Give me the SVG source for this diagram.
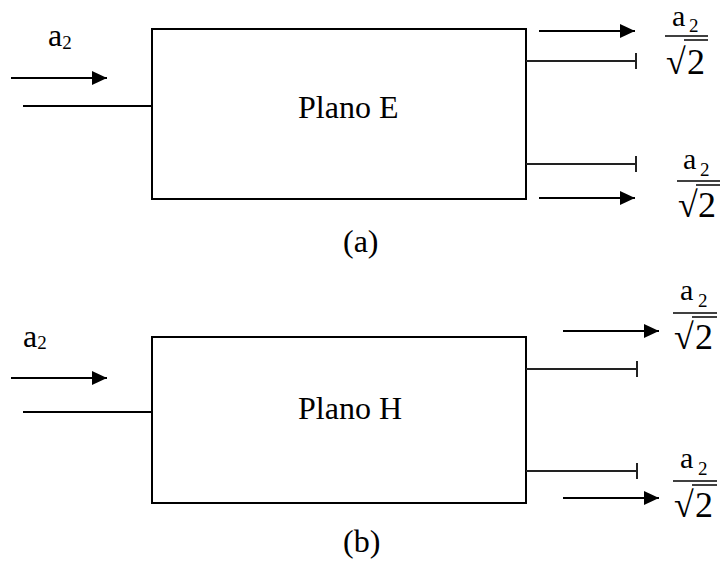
<svg xmlns="http://www.w3.org/2000/svg" width="720" height="567" viewBox="0 0 720 567">
<style>
text{font-family:"Liberation Serif","Times New Roman",serif;font-size:32px;fill:#000}
.sub{font-size:19px}
.fa{font-size:30px}
.big{font-size:36px}
.box{fill:#fff;stroke:#000;stroke-width:2}
.ln{stroke:#000;stroke-width:2;fill:none}
.stub{stroke:#222;stroke-width:2;fill:none}
.arr{stroke:#000;stroke-width:2;fill:none;marker-end:url(#ah)}
.fl{stroke:#000;stroke-width:1.5}
</style>
<defs>
<marker id="ah" markerUnits="userSpaceOnUse" markerWidth="16" markerHeight="16" refX="15" refY="7" orient="auto">
<path d="M0,0 L15,7 L0,14 Z" fill="#000"/>
</marker>
</defs>
<rect width="720" height="567" fill="#fff"/>
<g id="node-planoE">
<rect class="box" x="152" y="29" width="374" height="170"/>
<text x="298" y="118">Plano E</text>
</g>
<g id="node-planoH">
<rect class="box" x="152" y="337" width="374" height="166"/>
<text x="298" y="419">Plano H</text>
</g>
<g id="connectors">
<line class="arr" x1="11" y1="78" x2="107" y2="78"/>
<line class="ln" x1="23" y1="106" x2="152" y2="106"/>
<line class="arr" x1="539" y1="31" x2="635" y2="31"/>
<path class="stub" d="M526,61 H636 M636,53 V69"/>
<path class="stub" d="M526,164 H636 M636,156 V172"/>
<line class="arr" x1="539" y1="198" x2="635" y2="198"/>
<line class="arr" x1="11" y1="378" x2="107" y2="378"/>
<line class="ln" x1="23" y1="412" x2="152" y2="412"/>
<line class="arr" x1="563" y1="331" x2="659" y2="331"/>
<path class="stub" d="M526,369 H637 M637,361 V377"/>
<path class="stub" d="M526,471 H637 M637,463 V479"/>
<line class="arr" x1="563" y1="498" x2="659" y2="498"/>
</g>
<g id="labels">
<text x="48" y="46">a<tspan class="sub" dy="3">2</tspan></text>
<text x="23" y="347">a<tspan class="sub" dy="2">2</tspan></text>
<text x="343" y="252">(a)</text>
<text x="343" y="552">(b)</text>
</g>
<g id="frac-a-top" transform="translate(665,36)">
<text class="fa" x="7" y="-10">a</text>
<text class="sub" x="24" y="-4">2</text>
<line class="fl" x1="0" y1="0" x2="43" y2="0"/>
<text class="big" x="1" y="38">√</text>
<text class="big" x="22" y="38">2</text>
<line class="fl" x1="19" y1="4" x2="43" y2="4"/>
</g>
<g id="frac-a-bot" transform="translate(677,181)">
<text class="fa" x="6" y="-12">a</text>
<text class="sub" x="23" y="-5">2</text>
<line class="fl" x1="0" y1="0" x2="43" y2="0"/>
<text class="big" x="1" y="36">√</text>
<text class="big" x="21" y="36">2</text>
<line class="fl" x1="19" y1="4" x2="43" y2="4"/>
</g>
<g id="frac-b-top" transform="translate(673,313)">
<text class="fa" x="7" y="-13">a</text>
<text class="sub" x="25" y="-6">2</text>
<line class="fl" x1="0" y1="0" x2="44" y2="0"/>
<text class="big" x="1" y="36">√</text>
<text class="big" x="22" y="36">2</text>
<line class="fl" x1="19" y1="4" x2="44" y2="4"/>
</g>
<g id="frac-b-bot" transform="translate(673,481)">
<text class="fa" x="7" y="-13">a</text>
<text class="sub" x="25" y="-6">2</text>
<line class="fl" x1="0" y1="0" x2="44" y2="0"/>
<text class="big" x="1" y="36">√</text>
<text class="big" x="22" y="36">2</text>
<line class="fl" x1="19" y1="4" x2="44" y2="4"/>
</g>
</svg>
